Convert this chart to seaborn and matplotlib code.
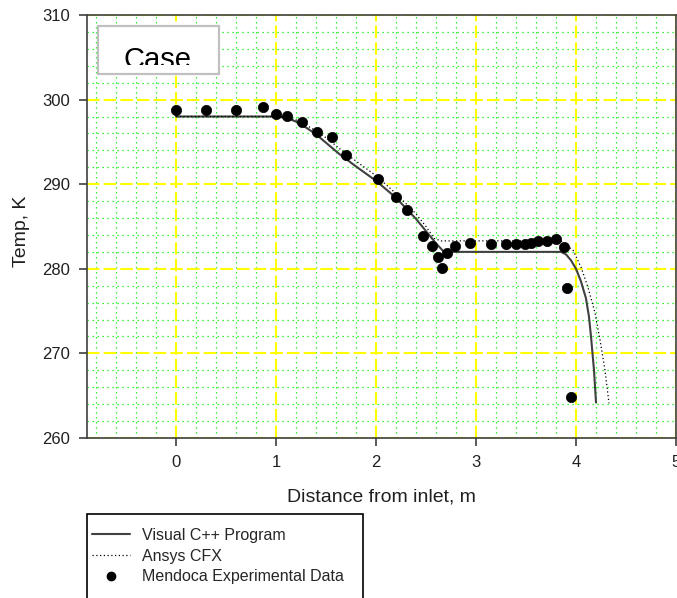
import matplotlib
matplotlib.use("Agg")
import matplotlib.pyplot as plt
from matplotlib.patches import Rectangle
from matplotlib.ticker import MultipleLocator
from matplotlib.lines import Line2D
import seaborn as sns
import pandas as pd

# ---- data ----
cpp_x = [0.0, 1.0, 1.1, 1.2, 1.3, 1.4, 1.5, 1.63, 1.8, 2.0, 2.2, 2.4, 2.6, 2.68,
         3.0, 3.5, 3.85, 3.9, 3.95, 4.0, 4.05, 4.1, 4.13, 4.15, 4.18, 4.2]
cpp_y = [298.0, 298.0, 297.85, 297.4, 296.7, 295.9, 294.9, 293.6, 292.1, 290.4, 288.4, 285.9, 283.0, 282.0,
         282.0, 282.0, 282.0, 281.7, 281.0, 280.0, 278.5, 276.5, 274.3, 272.0, 268.0, 264.2]

cfx_x = [0.0, 1.0, 1.1, 1.2, 1.3, 1.4, 1.5, 1.7, 2.0, 2.2, 2.4, 2.5, 2.58, 2.65,
         3.0, 3.5, 3.85, 3.97, 4.05, 4.12, 4.19, 4.24, 4.29, 4.33]
cfx_y = [298.0, 298.0, 297.9, 297.6, 297.0, 296.3, 295.5, 293.6, 291.0, 288.9, 286.5, 285.0, 283.6, 283.3,
         283.3, 283.3, 283.3, 282.2, 280.2, 277.8, 274.8, 271.6, 268.0, 264.1]

exp_x = [0.0, 0.30, 0.60, 0.87, 1.00, 1.11, 1.26, 1.41, 1.56, 1.70, 2.02, 2.20, 2.31,
         2.47, 2.56, 2.62, 2.66, 2.71, 2.79, 2.94, 3.15, 3.30, 3.40, 3.49, 3.55,
         3.62, 3.71, 3.80, 3.88, 3.91, 3.95]
exp_y = [298.8, 298.8, 298.8, 299.1, 298.3, 298.1, 297.3, 296.2, 295.6, 293.4, 290.6, 288.5, 286.9,
         283.9, 282.7, 281.4, 280.1, 281.9, 282.7, 283.1, 282.9, 282.9, 282.9, 282.9, 283.0,
         283.3, 283.3, 283.5, 282.6, 277.7, 264.9]

series_labels = ["Visual C++ Program", "Ansys CFX", "Mendoca Experimental Data"]
x_label = "Distance from inlet, m"
y_label = "Temp, K"
case_text = "Case"

df_cpp = pd.DataFrame({"x": cpp_x, "y": cpp_y})
df_cfx = pd.DataFrame({"x": cfx_x, "y": cfx_y})
df_exp = pd.DataFrame({"x": exp_x, "y": exp_y})

sns.set_style("white")
plt.rcParams["font.family"] = ["Liberation Sans", "DejaVu Sans"]

W, H = 677, 598
fig = plt.figure(figsize=(W / 100, H / 100), dpi=100)
L, R, T, B = 87, 676, 15, 438
ax = fig.add_axes([L / W, 1 - B / H, (R - L) / W, (B - T) / H])

sns.lineplot(data=df_cpp, x="x", y="y", ax=ax, color="#404040", linewidth=1.5,
             estimator=None, sort=False, zorder=4)
sns.lineplot(data=df_cfx, x="x", y="y", ax=ax, color="black", linewidth=0.9,
             linestyle=(0, (1, 2)), estimator=None, sort=False, zorder=4)
sns.scatterplot(data=df_exp, x="x", y="y", ax=ax, color="black", s=55, marker="o",
                edgecolor="black", linewidth=0.5, zorder=5)

ax.set_xlim(-0.89, 5.0)
ax.set_ylim(260, 310)
ax.xaxis.set_major_locator(MultipleLocator(1))
ax.xaxis.set_minor_locator(MultipleLocator(0.2))
ax.yaxis.set_major_locator(MultipleLocator(10))
ax.yaxis.set_minor_locator(MultipleLocator(2))
ax.set_axisbelow(True)
ax.grid(which="minor", color="#00ee00", linestyle=(0, (1, 3)), linewidth=0.9)
ax.grid(which="major", color="#ffff00", linestyle=(0, (6, 2)), linewidth=1.5)

ax.tick_params(which="major", direction="out", length=6, width=1.2, color="#404040",
               labelsize=12, pad=6, labelcolor="#202020")
ax.tick_params(which="minor", length=0)
ax.tick_params(axis="x", bottom=True)
ax.tick_params(axis="y", left=True)
for side in ["left", "bottom", "top", "right"]:
    ax.spines[side].set_color("#404040")
    ax.spines[side].set_linewidth(1.2)

ax.set_xlabel("")
ax.set_ylabel("")
fig.text((L + R) / 2 / W, 1 - 497 / H, x_label, ha="center", va="center", fontsize=14,
         color="#202020")
fig.text(22 / W, 1 - 231 / H, y_label, ha="center", va="center", rotation=90, fontsize=14,
         color="#202020")

# Case box
box_x0, box_x1 = (98 - L) / (R - L), (219 - L) / (R - L)
box_y0, box_y1 = 1 - (74 - T) / (B - T), 1 - (26 - T) / (B - T)
ax.add_patch(Rectangle((box_x0, box_y0), box_x1 - box_x0, box_y1 - box_y0,
                       transform=ax.transAxes, facecolor="white", edgecolor="#c0c0c0",
                       linewidth=1.6, zorder=6, clip_on=False))
clip_rect = Rectangle((box_x0, 1 - (65 - T) / (B - T)), box_x1 - box_x0,
                      (65 - 26) / (B - T), transform=ax.transAxes,
                      facecolor="none", edgecolor="none")
ax.add_patch(clip_rect)
t = ax.text((157.5 - L) / (R - L), 1 - (68 - T) / (B - T), case_text, transform=ax.transAxes,
            ha="center", va="baseline", fontsize=21, color="black", zorder=7)
t.set_clip_on(True)
t.set_clip_path(clip_rect)

# Legend
handles = [Line2D([], [], color="#404040", linewidth=1.5),
           Line2D([], [], color="black", linewidth=0.9, linestyle=(0, (1, 2))),
           Line2D([], [], color="black", marker="o", linestyle="none", markersize=6)]
leg = fig.legend(handles, series_labels, loc="upper left",
                 bbox_to_anchor=(92 / W, 1 - 528 / H), frameon=False, fontsize=11.5,
                 handlelength=2.4, handletextpad=0.7, labelspacing=0.35, borderpad=0,
                 borderaxespad=0)
fig.patches.append(Rectangle((87 / W, 1 - 620 / H), (363 - 87) / W, (620 - 514) / H,
                             transform=fig.transFigure, facecolor="none",
                             edgecolor="black", linewidth=1.2))

fig.savefig("out.png", dpi=100)
